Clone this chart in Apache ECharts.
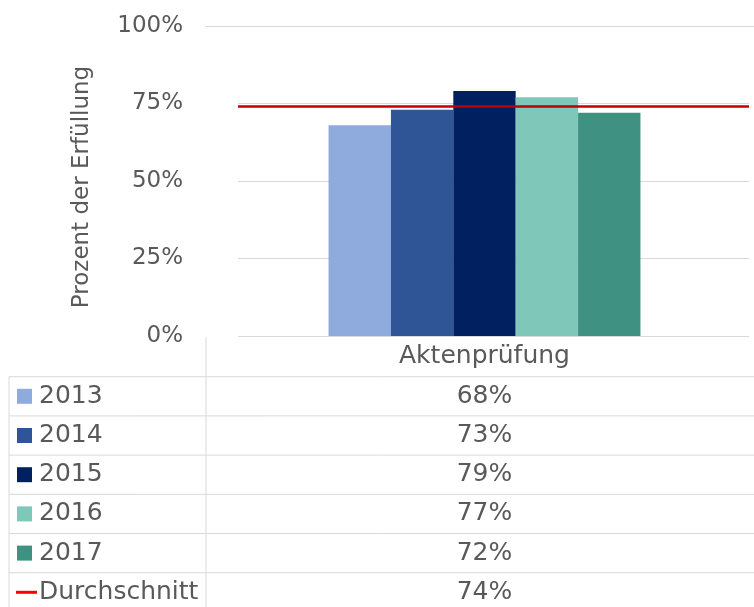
<!DOCTYPE html>
<html>
<head>
<meta charset="utf-8">
<script src="https://cdn.jsdelivr.net/npm/echarts@6/dist/echarts.min.js"></script>
<style>
  html, body { margin: 0; padding: 0; background: #ffffff; }
  #chart { width: 754px; height: 607px; }
</style>
</head>
<body>
<div id="chart"></div>
<script>
// Data
const categories = ['Aktenprüfung'];
const years = ['2013', '2014', '2015', '2016', '2017'];
const yearValues = [68, 73, 79, 77, 72];          // one value per year for the single category
const averageName = 'Durchschnitt';
const averageValue = [74];
const yTicks = [0, 25, 50, 75, 100];
const yAxisTitle = 'Prozent der Erfüllung';

// Styles
const yearColors = ['#8faadc', '#2f5597', '#002060', '#7fc7b8', '#3f9282'];
const averageColor = '#c00000';
const averageKeyColor = '#ff0000';
const textColor = '#595959';
const lineColor = '#d9d9d9';
const font = 'DejaVu Sans';
const tableFont = '25px "DejaVu Sans"';

// Layout
const plotTop = 26, plotHeight = 310;
const tableLeft = 9, tableSplit = 206, tableRight = 754;
const rowTop = 376.7, rowHeight = 39.2;

const chart = echarts.init(document.getElementById('chart'), null, { renderer: 'canvas' });

const barSeries = years.map((y, i) => ({
  type: 'bar',
  name: y,
  xAxisIndex: 0,
  yAxisIndex: 0,
  data: [yearValues[i]],
  barGap: '0%',
  barCategoryGap: '44%',
  itemStyle: { color: yearColors[i] },
  z: 3
}));

const option = {
  animation: false,
  backgroundColor: '#ffffff',
  textStyle: { fontFamily: font },
  grid: [
    // bars and category column (runs a little past the right edge)
    { left: tableSplit, width: 557, top: plotTop, height: plotHeight, outerBoundsMode: 'none', containLabel: false },
    // gridlines and average line
    { left: 238, right: 5, top: plotTop, height: plotHeight, outerBoundsMode: 'none', containLabel: false }
  ],
  xAxis: [
    {
      type: 'category', gridIndex: 0, data: categories,
      axisLine: { show: false }, axisTick: { show: false },
      axisLabel: { color: textColor, fontSize: 25, fontFamily: font, margin: 8 }
    },
    {
      type: 'category', gridIndex: 0, position: 'top', data: categories,
      axisLine: { show: true, lineStyle: { color: lineColor, width: 1 } },
      axisTick: { show: false }, axisLabel: { show: false }
    },
    {
      type: 'category', gridIndex: 1, data: categories, show: false
    }
  ],
  yAxis: [
    {
      type: 'value', gridIndex: 0, min: yTicks[0], max: yTicks[yTicks.length - 1], interval: 25,
      splitLine: { show: false }, axisLine: { show: false }, axisTick: { show: false },
      axisLabel: { color: textColor, fontSize: 23, fontFamily: font, margin: 23, formatter: '{value}%' },
      name: yAxisTitle, nameLocation: 'middle', nameGap: 112,
      nameTextStyle: { color: textColor, fontSize: 23, fontFamily: font, padding: [0, 12, 0, 0] }
    },
    {
      type: 'value', gridIndex: 1, min: yTicks[0], max: yTicks[yTicks.length - 1], interval: 25,
      axisLine: { show: false }, axisTick: { show: false }, axisLabel: { show: false },
      splitLine: { show: true, lineStyle: { color: lineColor, width: 1 } }
    }
  ],
  series: barSeries.concat([{
    type: 'line',
    name: averageName,
    xAxisIndex: 2,
    yAxisIndex: 1,
    data: [],
    z: 5,
    markLine: {
      silent: true,
      symbol: ['none', 'none'],
      label: { show: false },
      lineStyle: { color: averageColor, width: 2.5, type: 'solid' },
      data: [{ yAxis: averageValue[0] }]
    }
  }])
};

chart.setOption(option);

// Data table under the plot
const colX = chart.convertToPixel({ xAxisIndex: 0 }, categories[0]);
const rowNames = years.concat([averageName]);
const rowValues = yearValues.concat(averageValue);
const elements = [];

const hLine = (y) => ({
  type: 'line', silent: true,
  shape: { x1: tableLeft, y1: y, x2: tableRight, y2: y },
  style: { stroke: lineColor, lineWidth: 1 }
});

elements.push({
  type: 'line', silent: true,
  shape: { x1: tableSplit, y1: plotTop + plotHeight + 1, x2: tableSplit, y2: 607 },
  style: { stroke: lineColor, lineWidth: 1 }
});
elements.push({
  type: 'line', silent: true,
  shape: { x1: tableLeft, y1: rowTop, x2: tableLeft, y2: 607 },
  style: { stroke: lineColor, lineWidth: 1 }
});

rowNames.forEach((name, i) => {
  const top = rowTop + i * rowHeight;
  const mid = top + rowHeight / 2;
  elements.push(hLine(top));
  if (i < years.length) {
    elements.push({
      type: 'rect', silent: true,
      shape: { x: 17, y: mid - 7.5, width: 15, height: 15 },
      style: { fill: yearColors[i] }
    });
  } else {
    elements.push({
      type: 'line', silent: true,
      shape: { x1: 16, y1: mid, x2: 37, y2: mid },
      style: { stroke: averageKeyColor, lineWidth: 3 }
    });
  }
  elements.push({
    type: 'text', silent: true,
    x: 39, y: mid,
    style: { text: name, fill: textColor, font: tableFont, textAlign: 'left', textVerticalAlign: 'middle' }
  });
  elements.push({
    type: 'text', silent: true,
    x: colX, y: mid,
    style: { text: rowValues[i] + '%', fill: textColor, font: tableFont, textAlign: 'center', textVerticalAlign: 'middle' }
  });
});

chart.setOption({ graphic: { elements: elements } });
</script>
</body>
</html>
